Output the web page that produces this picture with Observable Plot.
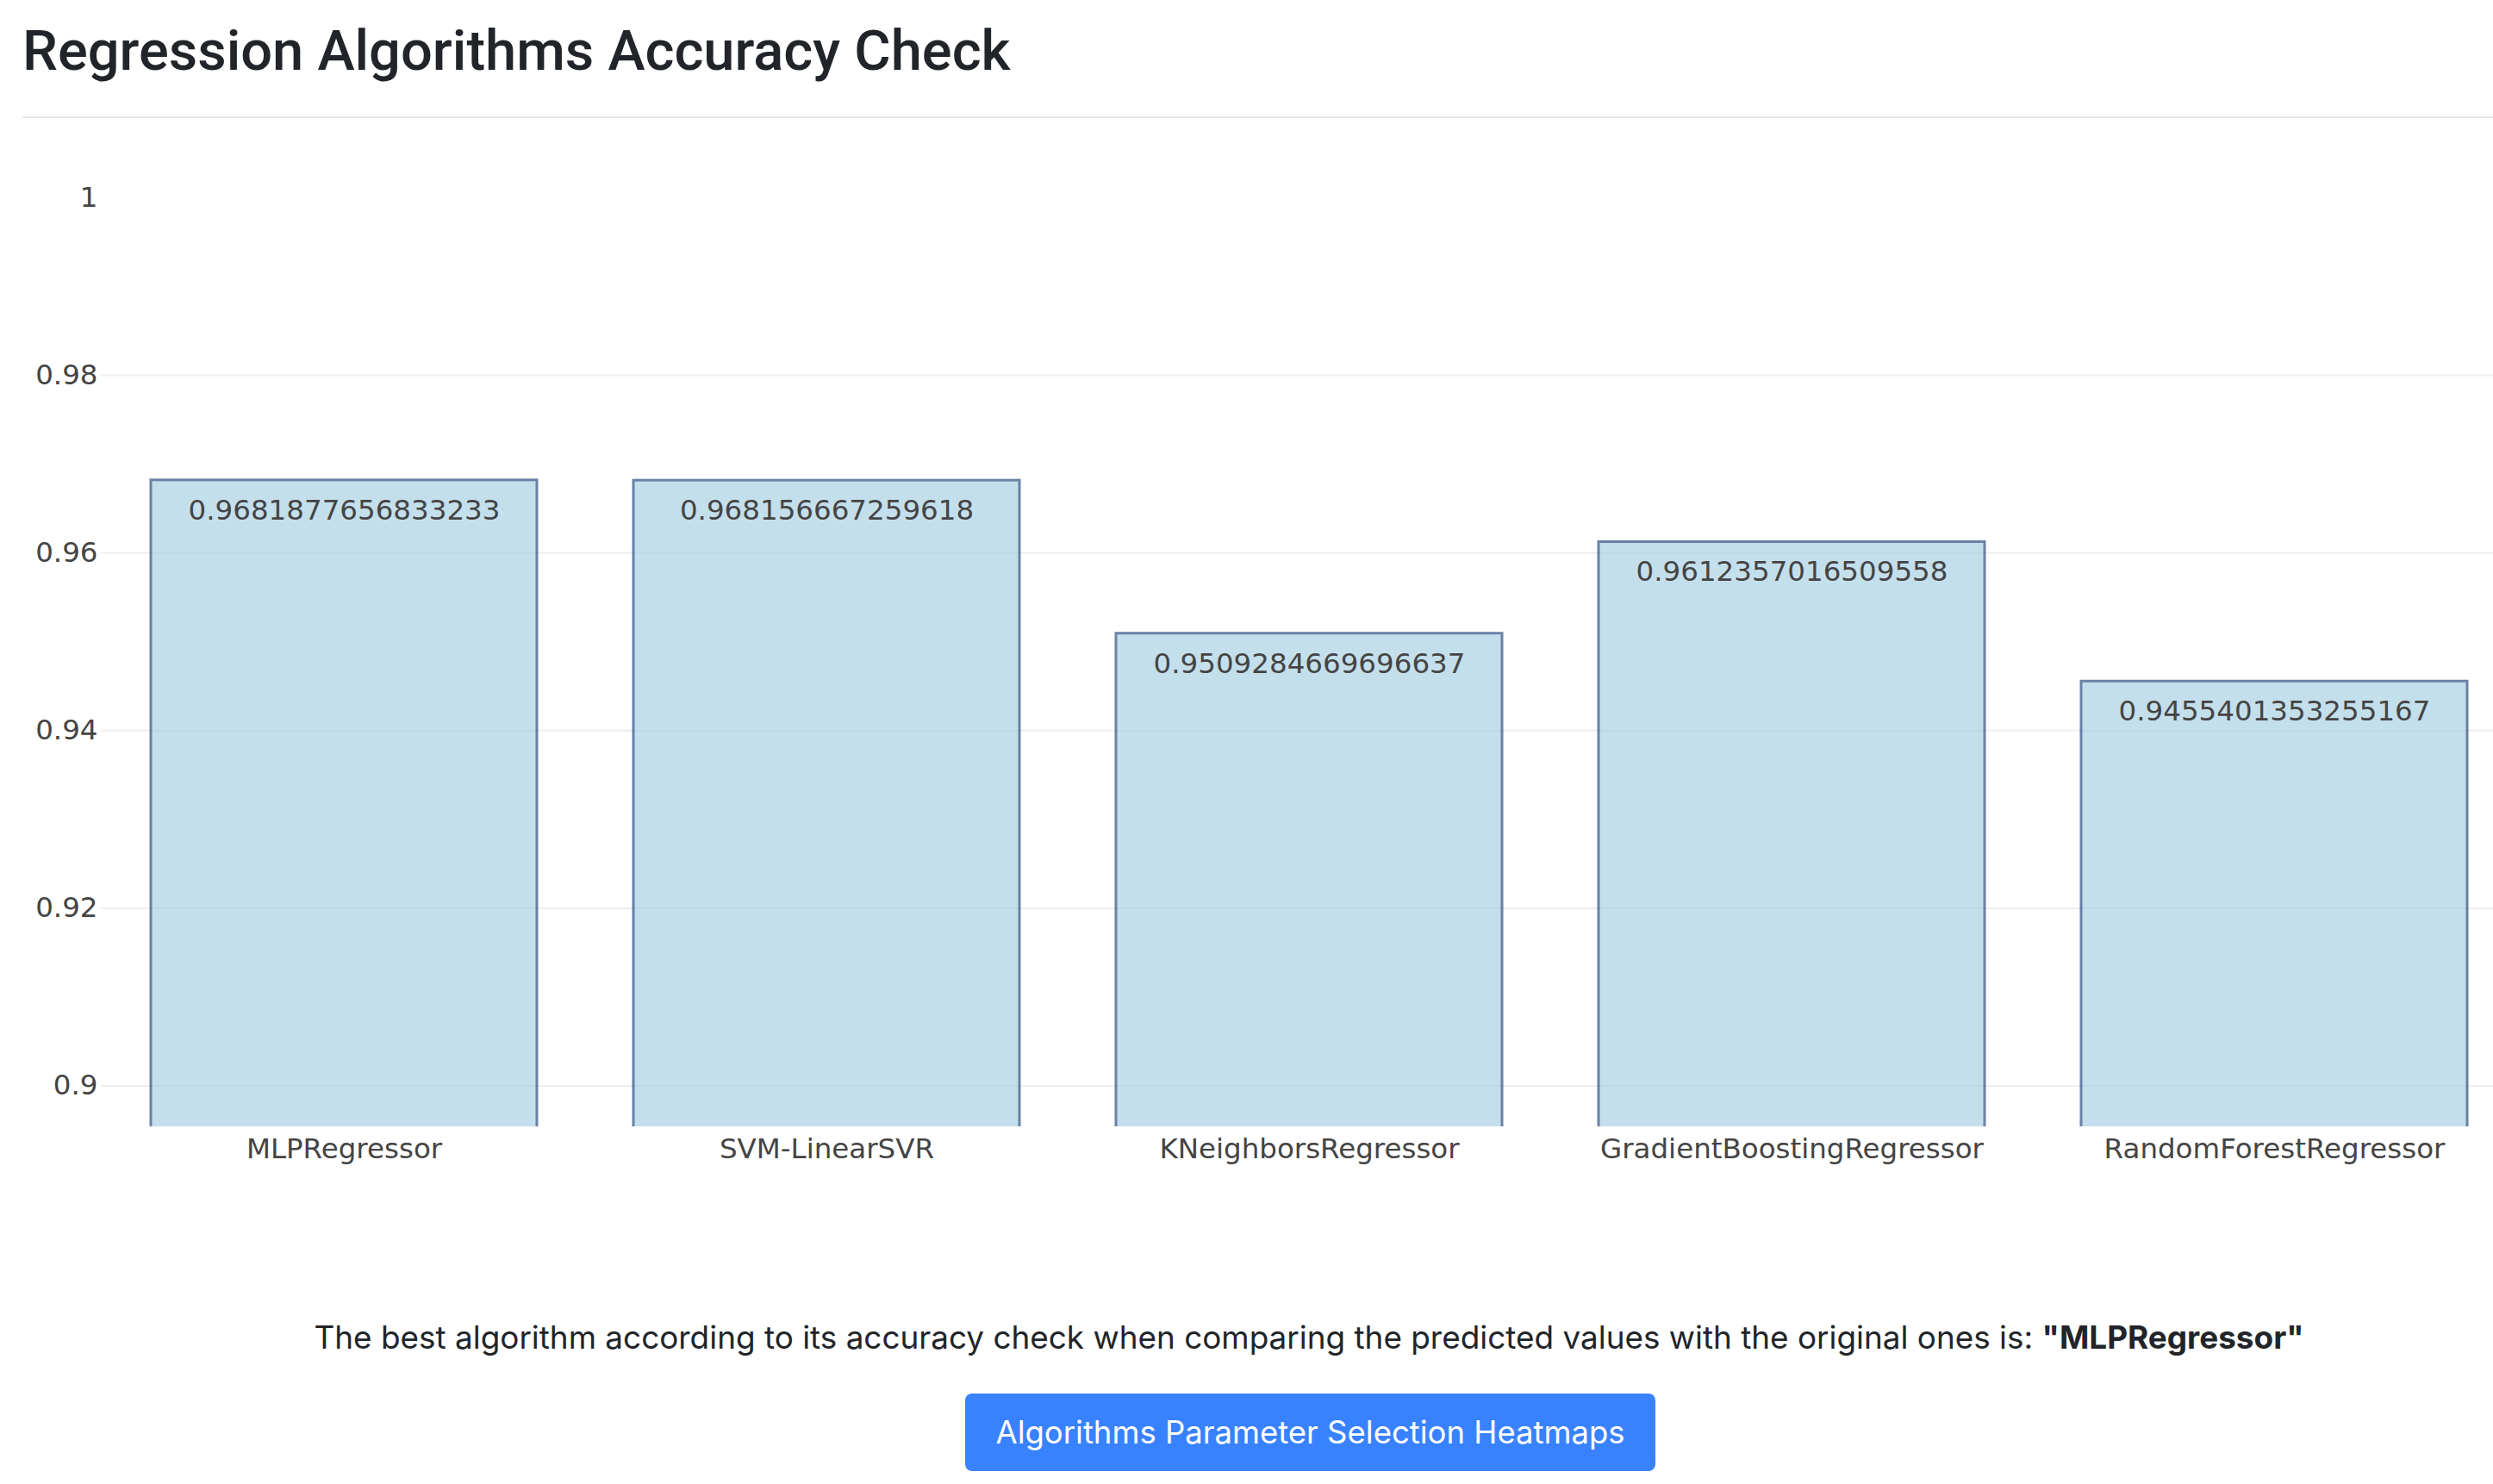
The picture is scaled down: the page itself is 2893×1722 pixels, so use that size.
<!DOCTYPE html>
<html>
<head>
<meta charset="utf-8">
<script src="https://cdn.jsdelivr.net/npm/d3@7"></script>
<script src="https://cdn.jsdelivr.net/npm/@observablehq/plot@0.6"></script>
<style>
  html, body { margin: 0; padding: 0; background: #fff; }
  body { width: 2893px; height: 1722px; overflow: hidden; position: relative; }
  #title { position: absolute; left: 26px; top: 24px; margin: 0; font-family: Roboto, "Liberation Sans", Arial, sans-serif; font-weight: 500; font-size: 65px; line-height: 70px; color: #212529; white-space: nowrap; }
  #rule { position: absolute; left: 26px; right: 0; top: 135px; height: 2px; background: #e6e6e6; }
  #chart { position: absolute; left: 0; top: 150px; width: 2921px; }
  #chart svg { max-width: none !important; }
  #caption { position: absolute; left: 1519px; top: 1530px; transform: translateX(-50%); font-family: Inter, "Liberation Sans", sans-serif; font-size: 36.9px; line-height: 44px; color: #212529; white-space: nowrap; }
  #button { position: absolute; left: 1120px; top: 1617px; width: 801px; height: 90px; border-radius: 8px; background: rgb(57,130,255); color: #fff; font-family: Inter, "Liberation Sans", sans-serif; font-size: 36.5px; display: flex; align-items: center; justify-content: center; white-space: nowrap; }
</style>
</head>
<body>
<h1 id="title">Regression Algorithms Accuracy Check</h1>
<div id="rule"></div>
<div id="chart"></div>
<div id="caption">The best algorithm according to its accuracy check when comparing the predicted values with the original ones is: <b>"MLPRegressor"</b></div>
<div id="button">Algorithms Parameter Selection Heatmaps</div>
<script>
const algorithms = ["MLPRegressor", "SVM-LinearSVR", "KNeighborsRegressor", "GradientBoostingRegressor", "RandomForestRegressor"];
const accuracy = [0.9681877656833233, 0.968156667259618, 0.9509284669696637, 0.9612357016509558, 0.9455401353255167];
const yTicks = [0.9, 0.92, 0.94, 0.96, 0.98, 1];
const yRange = [0.8954, 1];

const data = algorithms.map((name, i) => ({name, value: accuracy[i]}));
const gridTicks = yTicks.filter(t => t < 1);

const chart = Plot.plot({
  width: 2921,
  height: 1217,
  marginLeft: 117,
  marginRight: 0,
  marginTop: 79,
  marginBottom: 60,
  style: {fontFamily: "'DejaVu Sans', Verdana, sans-serif", fontSize: "32.5px", color: "#444", background: "transparent", overflow: "visible", maxWidth: "none"},
  x: {domain: algorithms, paddingInner: 0.2, paddingOuter: 0.1, label: null},
  y: {domain: yRange, label: null},
  marks: [
    Plot.ruleY(gridTicks, {stroke: "#eeeeee", strokeWidth: 2}),
    Plot.barY(data, {x: "name", y: "value", fill: "rgb(158,202,225)", stroke: "rgb(8,48,107)", strokeWidth: 3, opacity: 0.6, clip: true}),
    Plot.text(data, {x: "name", y: "value", text: d => String(d.value), dy: 35, fill: "#444", fontSize: 32.5}),
    Plot.axisX({tickSize: 0, tickPadding: 13, fontSize: 32.5, fill: "#444", label: null}),
    Plot.axisY({ticks: yTicks, tickSize: 0, tickPadding: 4, fontSize: 32.5, fill: "#444", tickFormat: d => String(d), label: null})
  ]
});
document.getElementById("chart").appendChild(chart);
</script>
</body>
</html>
